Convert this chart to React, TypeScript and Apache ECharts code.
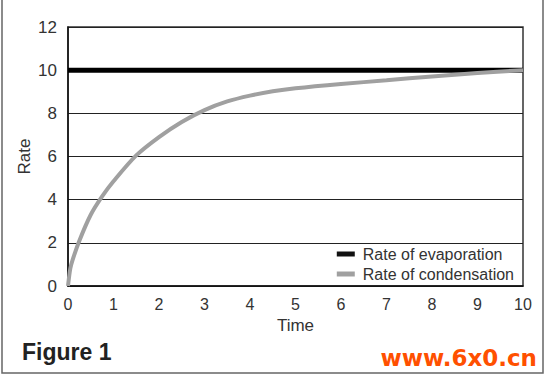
import React, { useEffect, useRef } from "react";
import * as echarts from "echarts";

const times = [0, 0.05, 0.1, 0.25, 0.5, 0.75, 1, 1.5, 2, 2.5, 3, 3.5, 4, 4.5, 5, 6, 7, 8, 9, 10];
const condensation = [0, 0.8, 1.2, 2.1, 3.3, 4.15, 4.85, 6.05, 6.9, 7.6, 8.15, 8.55, 8.82, 9.02, 9.16, 9.36, 9.53, 9.71, 9.87, 10];
const evapTimes = [0, 10];
const evaporation = [10, 10];
const xTicks = [0, 1, 2, 3, 4, 5, 6, 7, 8, 9, 10];
const seriesNames = ["Rate of evaporation", "Rate of condensation"];

export default function App() {
  const ref = useRef<HTMLDivElement>(null);
  useEffect(() => {
    if (!ref.current) return;
    const chart = echarts.init(ref.current, null, { renderer: "svg" });
    const font = "Liberation Sans, Arial, sans-serif";
    chart.setOption({
      animation: false,
      backgroundColor: "#fff",
      textStyle: { fontFamily: font },
      grid: {
        left: 68,
        right: 27,
        top: 27,
        bottom: 95,
        show: true,
        borderColor: "#333",
        borderWidth: 1.5,
      },
      legend: {
        orient: "vertical",
        right: 31,
        bottom: 94,
        itemWidth: 18,
        itemHeight: 5,
        itemGap: 4,
        icon: "rect",
        textStyle: { fontSize: 16, color: "#333", fontFamily: font, padding: [0, 0, 0, 3] },
        data: seriesNames,
      },
      xAxis: {
        type: "value",
        min: 0,
        max: 10,
        interval: 1,
        name: "Time",
        nameLocation: "middle",
        nameGap: 31,
        nameTextStyle: { fontSize: 17, color: "#333", fontFamily: font },
        axisLine: { show: true, lineStyle: { color: "#111", width: 1.5 } },
        axisTick: { show: false },
        splitLine: { show: false },
        axisLabel: {
          fontSize: 16,
          color: "#333",
          margin: 10,
          formatter: (v: number) => (xTicks.includes(v) ? String(v) : ""),
        },
      },
      yAxis: {
        type: "value",
        min: 0,
        max: 12,
        interval: 2,
        name: "Rate",
        nameLocation: "middle",
        nameGap: 35,
        nameMoveOverlap: false,
        nameTextStyle: { fontSize: 17, color: "#333", fontFamily: font },
        axisLine: { show: true, lineStyle: { color: "#111", width: 1.5 } },
        axisTick: { show: false },
        splitLine: { show: true, lineStyle: { color: "#222", width: 1.2 } },
        axisLabel: { fontSize: 17, color: "#333", margin: 11 },
      },
      series: [
        {
          name: seriesNames[0],
          type: "line",
          data: evapTimes.map((t, i) => [t, evaporation[i]]),
          showSymbol: false,
          lineStyle: { color: "#000", width: 5 },
          itemStyle: { color: "#111" },
          z: 2,
        },
        {
          name: seriesNames[1],
          type: "line",
          smooth: 0.3,
          data: times.map((t, i) => [t, condensation[i]]),
          showSymbol: false,
          lineStyle: { color: "#a0a0a0", width: 4 },
          itemStyle: { color: "#a0a0a0" },
          z: 3,
        },
      ],
      graphic: [
        {
          type: "rect",
          shape: { x: 2, y: -5, width: 541, height: 378 },
          style: { fill: "none", stroke: "#666", lineWidth: 1.5 },
          silent: true,
        },
        {
          type: "text",
          x: 22,
          y: 352,
          style: {
            text: "Figure 1",
            font: "bold 23px Liberation Sans, Arial, sans-serif",
            fill: "#222",
            verticalAlign: "middle",
          },
        },
        {
          type: "text",
          x: 537,
          y: 358,
          style: {
            text: "www.6x0.cn",
            font: "bold 23px DejaVu Sans, sans-serif",
            fill: "#ff5000",
            align: "right",
            verticalAlign: "middle",
          },
        },
      ],
    });
    return () => chart.dispose();
  }, []);
  return (
    <div
      ref={ref}
      style={{ position: "fixed", left: 0, top: 0, width: 550, height: 381 }}
    />
  );
}
